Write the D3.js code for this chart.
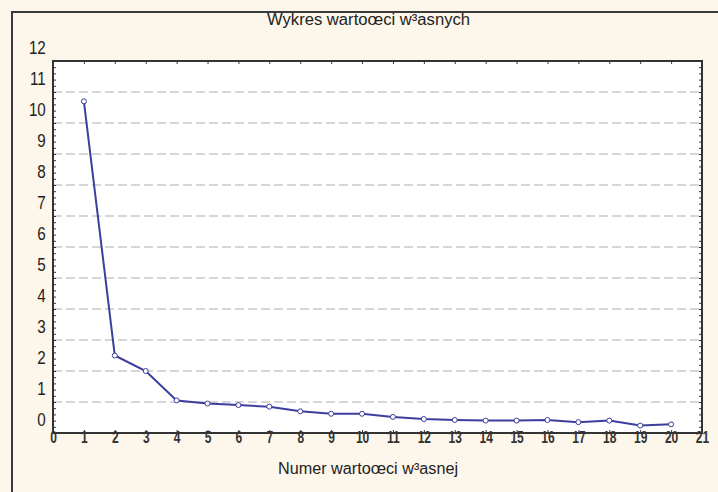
<!DOCTYPE html>
<html>
<head>
<meta charset="utf-8">
<script src="https://cdn.jsdelivr.net/npm/d3@7"></script>
<style>
  body { margin: 0; background: #fdf6ea; }
  text { font-family: "Liberation Sans Narrow", "Arial Narrow", "Liberation Sans", sans-serif; fill: #222; }
</style>
</head>
<body>
<div class="chart"></div>
<script>
let numbers = d3.range(1, 21);
let eigenvalues = [10.7, 2.5, 2.0, 1.05, 0.95, 0.9, 0.85, 0.7, 0.62, 0.62,
                   0.52, 0.45, 0.42, 0.4, 0.4, 0.42, 0.35, 0.4, 0.24, 0.28];
let xTicks = d3.range(0, 22);
let yTicks = d3.range(0, 13);
let gridValues = d3.range(1, 12);
let title = "Wykres wartoœci w³asnych";
let xTitle = "Numer wartoœci w³asnej";

let width = 718;
let height = 492;
let margin = { top: 61, left: 53, right: 16, bottom: 59 };

let svg = d3.select(".chart")
  .append("svg")
  .attr("width", width)
  .attr("height", height);

// outer frame (runs off the right and bottom edges)
svg.append("rect")
  .attr("x", 12).attr("y", 12)
  .attr("width", 730).attr("height", 500)
  .attr("fill", "#fdf6ea")
  .attr("stroke", "#3a3a3a")
  .attr("stroke-width", 2);

let x = d3.scaleLinear().domain([0, 21]).range([margin.left, width - margin.right]);
let y = d3.scaleLinear().domain([0, 12]).range([height - margin.bottom, margin.top]);

svg.append("rect")
  .attr("x", x(0)).attr("y", y(12))
  .attr("width", x(21) - x(0)).attr("height", y(0) - y(12))
  .attr("fill", "#fff");

// dashed gridlines
svg.append("g")
  .selectAll("line")
  .data(gridValues)
  .enter()
  .append("line")
  .attr("x1", x(0)).attr("x2", x(21))
  .attr("y1", d => y(d)).attr("y2", d => y(d))
  .attr("stroke", "#c9c9c9")
  .attr("stroke-width", 1.5)
  .attr("stroke-dasharray", "9,4");

// minor ticks on left / right
let minor = d3.range(0, 12.01, 0.2);
svg.append("g")
  .attr("transform", "translate(" + x(0) + ",0)")
  .call(d3.axisRight(y).tickValues(minor).tickSize(3).tickFormat(""))
  .call(g => g.select(".domain").remove())
  .selectAll("line").attr("stroke", "#333");
svg.append("g")
  .attr("transform", "translate(" + x(21) + ",0)")
  .call(d3.axisLeft(y).tickValues(minor).tickSize(3).tickFormat(""))
  .call(g => g.select(".domain").remove())
  .selectAll("line").attr("stroke", "#333");

// top ticks
svg.append("g")
  .attr("transform", "translate(0," + y(12) + ")")
  .call(d3.axisBottom(x).tickValues(xTicks).tickSize(3).tickFormat(""))
  .call(g => g.select(".domain").remove())
  .selectAll("line").attr("stroke", "#333");

// y labels (shifted up like the original)
let yAxis = svg.append("g")
  .attr("transform", "translate(" + x(0) + ",0)")
  .call(d3.axisLeft(y).tickValues(yTicks).tickSize(0).tickPadding(9));
yAxis.select(".domain").remove();
yAxis.selectAll("text")
  .attr("dy", "-0.38em")
  .attr("transform", "scale(0.8,1)")
  .style("font-size", "19px");

// x labels
let xAxis = svg.append("g")
  .attr("transform", "translate(0," + y(0) + ")")
  .call(d3.axisBottom(x).tickValues(xTicks).tickSize(3).tickPadding(-3));
xAxis.select(".domain").remove();
xAxis.selectAll("line").attr("stroke", "#333").attr("y2", -3);
xAxis.selectAll("text")
  .attr("dy", "0.6em")
  .attr("transform", "scale(0.75,1)")
  .style("font-size", "16px")
  .style("font-weight", "bold")
  .style("fill", "#333");

// plot frame
svg.append("rect")
  .attr("x", x(0)).attr("y", y(12))
  .attr("width", x(21) - x(0)).attr("height", y(0) - y(12))
  .attr("fill", "none")
  .attr("stroke", "#333")
  .attr("stroke-width", 2);

// series
let line = d3.line()
  .x((d, i) => x(numbers[i]))
  .y(d => y(d));

svg.append("path")
  .datum(eigenvalues)
  .attr("d", line)
  .attr("fill", "none")
  .attr("stroke", "#3b3f9e")
  .attr("stroke-width", 2);

svg.append("g")
  .selectAll("circle")
  .data(eigenvalues)
  .enter()
  .append("circle")
  .attr("cx", (d, i) => x(numbers[i]))
  .attr("cy", d => y(d))
  .attr("r", 2.5)
  .attr("fill", "#fff")
  .attr("stroke", "#3b3f9e")
  .attr("stroke-width", 1);

// titles
svg.append("text")
  .attr("x", 267).attr("y", 25)
  .attr("textLength", 203)
  .attr("lengthAdjust", "spacingAndGlyphs")
  .style("font-size", "16px")
  .text(title);

svg.append("text")
  .attr("x", 278).attr("y", 474)
  .attr("textLength", 180)
  .attr("lengthAdjust", "spacingAndGlyphs")
  .style("font-size", "16px")
  .text(xTitle);
</script>
</body>
</html>
